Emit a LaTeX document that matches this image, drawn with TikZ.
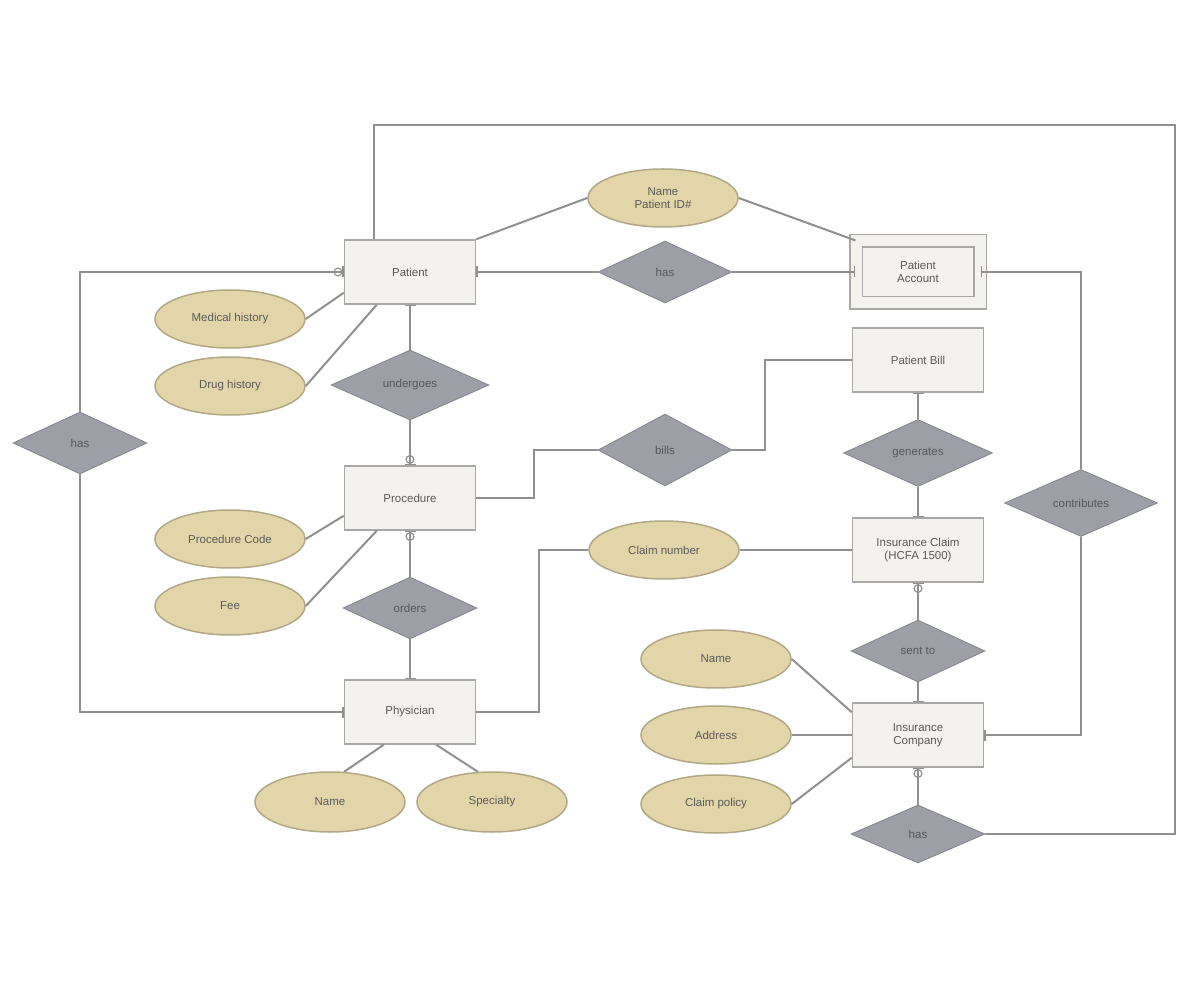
\documentclass[tikz,border=0pt]{standalone}
\usepackage{fontspec}
\setmainfont{Liberation Sans}
\usepackage{tikz}
\usetikzlibrary{arrows.meta,positioning,calc,shapes.geometric}

\definecolor{entfill}{HTML}{F3F2EE}
\definecolor{entline}{HTML}{A8A8A8}
\definecolor{attfill}{HTML}{E3D5AA}
\definecolor{attline}{HTML}{B3A886}
\definecolor{relfill}{HTML}{9D9EA6}
\definecolor{linkgray}{HTML}{909090}
\definecolor{txtgray}{HTML}{5A5A5A}

\tikzset{
  entity/.style={draw=entline, fill=entfill, line width=1.5pt, minimum width=131pt,
    minimum height=64pt, align=center, text=txtgray},
  attr/.style={ellipse, draw=attline, fill=attfill, line width=1.5pt, inner sep=0pt,
    minimum width=150pt, minimum height=58pt, align=center, text=txtgray},
  rel/.style={diamond, fill=relfill, draw=relfill!85!black, line width=0.8pt, inner sep=0pt,
    minimum width=134pt, minimum height=62pt, text=black!65},
  link/.style={draw=linkgray, line width=2pt},
  onemark/.style={-{Bar[width=11pt,line width=1.3pt]}},
  zeromark/.style={-{Circle[open,length=9pt,width=9pt,line width=1.2pt]Bar[width=11pt,line width=1.3pt]}}
}

\begin{document}
\begin{tikzpicture}[x=1pt, y=-1pt, font=\fontsize{11.5}{13.5}\selectfont, >=Latex]
\useasboundingbox (0,0) rectangle (1200,981);

% entities
\node[entity] (patient) at (410,272) {Patient};
\node[entity, double=entfill, double distance=11pt, line width=1.2pt,
  minimum width=124pt, minimum height=62pt] (acct) at (918,272) {Patient\\Account};
\node[entity] (bill) at (918,360) {Patient Bill};
\node[entity] (proc) at (410,498) {Procedure};
\node[entity] (claim) at (918,550) {Insurance Claim\\(HCFA 1500)};
\node[entity] (physician) at (410,712) {Physician};
\node[entity] (inscomp) at (918,735) {Insurance\\Company};

% relationships
\node[rel] (hastop) at (665,272) {has};
\node[rel, minimum width=158pt, minimum height=70pt] (undergoes) at (410,385) {undergoes};
\node[rel] (hasleft) at (80,443) {has};
\node[rel, minimum height=72pt] (bills) at (665,450) {bills};
\node[rel, minimum width=149pt, minimum height=67pt] (generates) at (918,453) {generates};
\node[rel, minimum width=153pt, minimum height=67pt] (contrib) at (1081,503) {contributes};
\node[rel] (orders) at (410,608) {orders};
\node[rel] (sentto) at (918,651) {sent to};
\node[rel, minimum height=58pt] (hasbot) at (918,834) {has};

% attributes
\node[attr] (pid) at (663,198) {Name\\Patient ID\#};
\node[attr] (medhist) at (230,319) {Medical history};
\node[attr] (drughist) at (230,386) {Drug history};
\node[attr] (proccode) at (230,539) {Procedure Code};
\node[attr] (fee) at (230,606) {Fee};
\node[attr] (claimno) at (664,550) {Claim number};
\node[attr] (insname) at (716,659) {Name};
\node[attr] (insaddr) at (716,735) {Address};
\node[attr] (inspolicy) at (716,804) {Claim policy};
\node[attr, minimum height=60pt] (physname) at (330,802) {Name};
\node[attr, minimum height=60pt] (specialty) at (492,802) {Specialty};

\coordinate (loopne) at (1175,125);

% connectors
\draw[link] ([xshift=30pt]patient.north west) |- (loopne) |- (hasbot.east);
\draw[link] (patient.north east) -- (pid.west);
\draw[link] (pid.east) -- (acct.north west);
\draw[link, onemark] (hastop.west) -- (patient.east);
\draw[link, onemark] (hastop.east) -- (acct.west);
\draw[link, onemark] (contrib.north) |- (acct.east);
\draw[link, onemark] (contrib.south) |- (inscomp.east);
\draw[link, zeromark] (hasleft.north) |- (patient.west);
\draw[link, onemark] (hasleft.south) |- (physician.west);
\draw[link] (medhist.east) -- ([yshift=12pt]patient.south west);
\draw[link] (drughist.east) -- ([xshift=33pt]patient.south west);
\draw[link, onemark] (undergoes.north) -- (patient.south);
\draw[link, zeromark] (undergoes.south) -- (proc.north);
\draw[link] (proc.east) -- ++(58,0) |- (bills.west);
\draw[link] (bills.east) -- ++(33,0) |- (bill.west);
\draw[link, onemark] (generates.north) -- (bill.south);
\draw[link, onemark] (generates.south) -- (claim.north);
\draw[link] (proccode.east) -- ([yshift=15pt]proc.south west);
\draw[link] (fee.east) -- ([xshift=33pt]proc.south west);
\draw[link, zeromark] (orders.north) -- (proc.south);
\draw[link, onemark] (orders.south) -- (physician.north);
\draw[link] (physician.east) -- ++(63,0) |- (claimno.west);
\draw[link] (claimno.east) -- (claim.west);
\draw[link] (physname.65) -- ([xshift=40pt]physician.south west);
\draw[link] (specialty.115) -- ([xshift=-40pt]physician.south east);
\draw[link, zeromark] (sentto.north) -- (claim.south);
\draw[link, onemark] (sentto.south) -- (inscomp.north);
\draw[link] (insname.east) -- ([yshift=-10pt]inscomp.north west);
\draw[link] (insaddr.east) -- (inscomp.west);
\draw[link] (inspolicy.east) -- ([yshift=10pt]inscomp.south west);
\draw[link, zeromark] (hasbot.north) -- (inscomp.south);
\end{tikzpicture}
\end{document}
